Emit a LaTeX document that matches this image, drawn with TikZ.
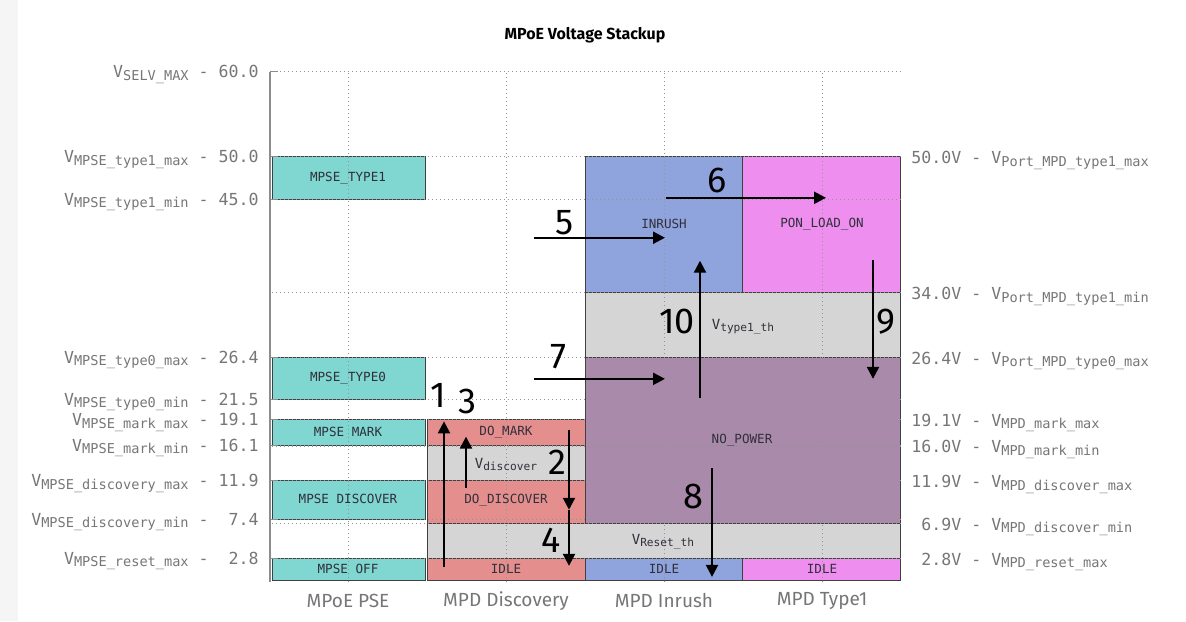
\documentclass[tikz,border=0pt]{standalone}
\usepackage{fontspec}
\setmainfont{Fira Sans}
\setmonofont{DejaVu Sans Mono}
\usetikzlibrary{arrows.meta}
\definecolor{psecyan}{RGB}{128,214,208}
\definecolor{discred}{RGB}{229,142,142}
\definecolor{bandgray}{RGB}{213,213,213}
\definecolor{rushblue}{RGB}{143,163,221}
\definecolor{loadpink}{RGB}{238,142,238}
\definecolor{nopurple}{RGB}{170,138,170}
\definecolor{labelgray}{RGB}{118,118,118}
\definecolor{boxtext}{RGB}{48,48,58}
\newcommand{\vname}[1]{V\raisebox{-1.2pt}{\fontsize{6.8}{7}\selectfont #1}}
\newcommand{\vband}[1]{{\fontsize{7}{8}\selectfont V}\raisebox{-1pt}{\fontsize{5.6}{6}\selectfont #1}}

\begin{document}
\begin{tikzpicture}[x=0.5pt,y=0.5pt,
    boxlbl/.style={font=\ttfamily\fontsize{6.3}{7}\selectfont,text=boxtext,inner sep=0pt},
    ticklbl/.style={font=\ttfamily\fontsize{8.3}{9}\selectfont,text=labelgray,inner sep=0pt},
    collbl/.style={font=\fontsize{9.5}{10}\selectfont,text=labelgray,inner sep=0pt},
    stepnum/.style={font=\fontsize{18}{20}\selectfont,inner sep=0pt},
    trans/.style={line width=1.1pt,-{Triangle[length=6pt,width=6pt]}},
    gridln/.style={gray!85,line width=0.5pt,dash pattern=on 0.5pt off 1.5pt},
    stackbox/.style={draw=black!75,line width=0.5pt}]
  \useasboundingbox (0,0) rectangle (1186,621);
  \fill[black!4] (0,0) rectangle (18,621);

  \node[font=\bfseries\fontsize{8}{9}\selectfont] (title) at (585,586) {MPoE Voltage Stackup};

  % x in pixels, y in volts
  \begin{scope}[shift={(0pt,19.5pt)},y=4.25pt]
    % states
    \fill[psecyan,stackbox] (272,45) rectangle (425,50);
    \fill[psecyan,stackbox] (272,21.5) rectangle (425,26.4);
    \fill[psecyan,stackbox] (272,16.1) rectangle (425,19.1);
    \fill[psecyan,stackbox] (272,7.4) rectangle (425,11.9);
    \fill[psecyan,stackbox] (272,0.2) rectangle (425,2.8);

    \fill[discred,stackbox] (427,16.1) rectangle (585,19.1);
    \fill[bandgray,stackbox] (427,11.9) rectangle (585,16.1);
    \fill[discred,stackbox] (427,6.9) rectangle (585,11.9);
    \fill[bandgray,stackbox] (427,2.8) rectangle (900,6.9);
    \fill[discred,stackbox] (427,0.2) rectangle (585,2.8);

    \fill[rushblue,stackbox] (585,0.2) rectangle (742,2.8);
    \fill[loadpink,stackbox] (742,0.2) rectangle (900,2.8);
    \fill[nopurple,stackbox] (585,6.9) rectangle (900,26.4);
    \fill[bandgray,stackbox] (585,26.4) rectangle (900,34);
    \fill[rushblue,stackbox] (585,34) rectangle (742,50);
    \fill[loadpink,stackbox] (742,34) rectangle (900,50);

    % grid and axis
    \foreach \v in {60,50,45,34,26.4,21.5,19.1,16.1,16,11.9,7.4,6.9,2.8}
      \draw[gridln] (272,\v) -- (903,\v);
    \foreach \x in {348,506,664,822}
      \draw[gridln] (\x,0) -- (\x,60);
    \draw[black!45,line width=0.6pt] (270,60) -- (270,0);
    \foreach \v in {60,50,45,26.4,21.5,19.1,16.1,11.9,7.4,2.8}
      \draw[black!45,line width=0.5pt] (270,\v) -- (278,\v);

    % left and right limits
    \foreach \v/\nm/\val [count=\i] in {60/SELV\_MAX/60.0,
        50/MPSE\_type1\_max/50.0, 45/MPSE\_type1\_min/45.0,
        26.4/MPSE\_type0\_max/26.4, 21.5/MPSE\_type0\_min/21.5,
        19.1/MPSE\_mark\_max/19.1, 16.1/MPSE\_mark\_min/16.1,
        11.9/MPSE\_discovery\_max/11.9, 7.4/MPSE\_discovery\_min/\phantom{0}7.4,
        2.8/MPSE\_reset\_max/\phantom{0}2.8}
      \node[ticklbl,anchor=base east] (lt\i) at (259,{\v-0.7}) {\vname{\nm} - \val};
    \foreach \v/\nm/\val [count=\i] in {50/Port\_MPD\_type1\_max/50.0,
        34/Port\_MPD\_type1\_min/34.0, 26.4/Port\_MPD\_type0\_max/26.4,
        19.1/MPD\_mark\_max/19.1, 16/MPD\_mark\_min/16.0,
        11.9/MPD\_discover\_max/11.9, 6.9/MPD\_discover\_min/\phantom{0}6.9,
        2.8/MPD\_reset\_max/\phantom{0}2.8}
      \node[ticklbl,anchor=base west] (rt\i) at (911,{\v-0.8}) {\val V - \vname{\nm}};

    % state names
    \node[boxlbl] (pse1) at (348,47.5) {MPSE\_TYPE1};
    \node[boxlbl] (pse0) at (348,24.0) {MPSE\_TYPE0};
    \node[boxlbl] (psemark) at (348,17.6) {MPSE MARK};
    \node[boxlbl] (psedisc) at (348,9.8) {MPSE DISCOVER};
    \node[boxlbl] (pseoff) at (348,1.5) {MPSE OFF};
    \node[boxlbl] (domark) at (506,17.6) {DO\_MARK};
    \node[boxlbl] (vdisc) at (506,13.8) {\vband{discover}};
    \node[boxlbl] (dodisc) at (506,9.6) {DO\_DISCOVER};
    \node[boxlbl] (idle1) at (506,1.5) {IDLE};
    \node[boxlbl] (idle2) at (664,1.5) {IDLE};
    \node[boxlbl] (idle3) at (822,1.5) {IDLE};
    \node[boxlbl] (vreset) at (663,4.7) {\vband{Reset\_th}};
    \node[boxlbl] (nopower) at (742,16.7) {NO\_POWER};
    \node[boxlbl] (vtype1) at (743,30.0) {\vband{type1\_th}};
    \node[boxlbl] (inrush) at (664,42.1) {INRUSH};
    \node[boxlbl] (ponload) at (822,42.1) {PON\_LOAD\_ON};

    % transitions
    \foreach \i/\xa/\ya/\xb/\yb in {1/444/1.8/444/18.9, 2/569/17.9/569/8.5,
        3/466/11.1/466/17.1, 4/569/8.5/569/1.9, 5/534/40.5/665/40.5,
        6/666/45.2/826/45.2, 7/534/23.9/665/23.9, 8/712/13.4/712/0.6,
        9/873/37.9/873/23.9, 10/700/21.6/700/37.8} {
      \coordinate (s\i) at (\xa,\ya);
      \coordinate (e\i) at (\xb,\yb);
      \draw[trans] (s\i) -- (e\i);
    }
    \foreach \i/\x/\v in {1/438/22.0, 3/467/21.2, 2/557/14.1, 4/551/4.9,
        5/565/42.3, 6/717/47.2, 7/558/26.5, 8/693/10.1, 9/886/30.6, 10/677/30.6}
      \node[stepnum] (n\i) at (\x,\v) {\i};
  \end{scope}

  % columns
  \foreach \x/\t [count=\i] in {348/MPoE PSE,506/MPD Discovery,664/MPD Inrush,822/MPD Type1}
    \node[collbl] (col\i) at (\x,20) {\t};
\end{tikzpicture}
\end{document}
